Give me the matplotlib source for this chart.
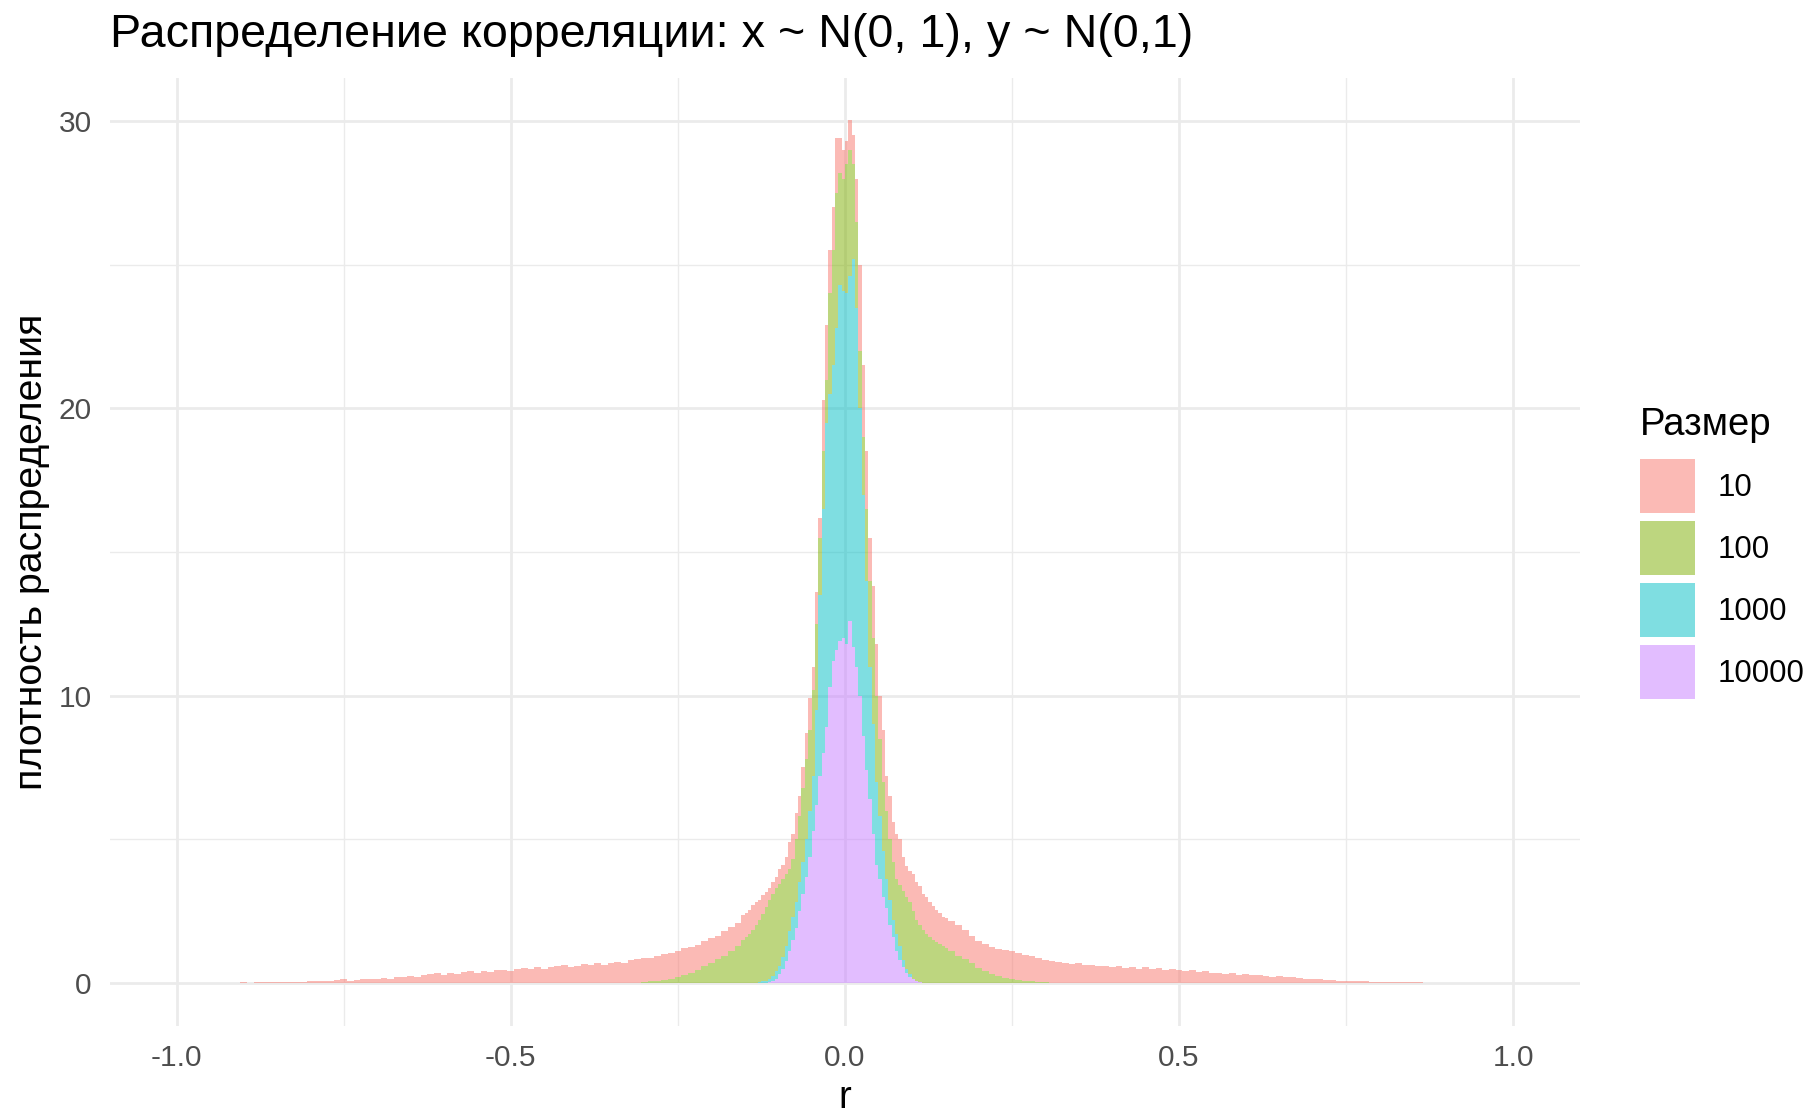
import numpy as np
import matplotlib
matplotlib.use("Agg")
import matplotlib.pyplot as plt

plt.rcParams["font.family"] = ["Liberation Sans", "DejaVu Sans"]

# bin edges: 0.01 wide in the tails, 0.005 wide around zero
edges = np.concatenate([
    np.arange(-955, -155, 10),
    np.arange(-155, 155, 5),
    np.arange(155, 956, 10),
]) / 1000.0
centers = (edges[:-1] + edges[1:]) / 2

sizes = ["10", "100", "1000", "10000"]

# density of each layer per bin (stacked)
dens_10 = [
    # -0.95 ... -0.16
    0.01, 0.00, 0.01, 0.00, 0.01, 0.02, 0.01, 0.02, 0.02, 0.03,
    0.02, 0.03, 0.03, 0.04, 0.03, 0.05, 0.05, 0.06, 0.07, 0.09,
    0.12, 0.08, 0.10, 0.13, 0.12, 0.15, 0.17, 0.14, 0.19, 0.20,
    0.24, 0.21, 0.27, 0.30, 0.35, 0.28, 0.33, 0.30, 0.38, 0.40,
    0.34, 0.42, 0.37, 0.45, 0.44, 0.40, 0.48, 0.52, 0.50, 0.56,
    0.50, 0.55, 0.58, 0.62, 0.56, 0.60, 0.66, 0.62, 0.70, 0.64,
    0.68, 0.74, 0.70, 0.78, 0.82, 0.82, 0.83, 0.85, 0.90, 0.92,
    0.90, 0.92, 0.89, 0.87, 0.87, 0.85, 0.83, 0.85, 0.85, 0.80,
    # -0.1525 ... 0.1525
    0.85, 0.85, 0.85, 0.85, 0.80, 0.70, 0.65, 0.50, 0.40, 0.40,
    0.40, 0.50, 0.50, 0.60, 0.95, 0.90, 0.90, 0.70, 0.70, 0.90,
    1.10, 0.80, 1.10, 0.70, 1.80, 1.90, 1.50, 1.50, 1.90, 1.20,
    1.00, 0.80, 1.05, 1.00, 1.50, 3.00, 2.50, 2.00, 1.50, 1.80,
    1.80, 1.50, 1.80, 1.20, 1.50, 1.40, 1.60, 1.60, 1.20, 1.06,
    1.10, 1.30, 1.30, 1.36, 1.25, 1.30, 1.20, 1.17, 1.13, 1.10,
    1.02, 1.05,
    # 0.16 ... 0.95
    1.05, 1.05, 1.03, 0.97, 0.92, 0.93, 0.93, 0.93, 0.97,
    0.99, 0.95, 0.90, 0.87, 0.82, 0.78, 0.76, 0.72, 0.70, 0.66,
    0.68, 0.62, 0.64, 0.58, 0.60, 0.56, 0.58, 0.52, 0.55, 0.50,
    0.54, 0.48, 0.52, 0.46, 0.50, 0.45, 0.42, 0.44, 0.38, 0.40,
    0.35, 0.36, 0.31, 0.33, 0.28, 0.30, 0.26, 0.27, 0.24, 0.22,
    0.23, 0.19, 0.20, 0.16, 0.15, 0.14, 0.13, 0.10, 0.09, 0.08,
    0.07, 0.06, 0.06, 0.05, 0.04, 0.03, 0.03, 0.03, 0.02, 0.02,
    0.02, 0.02, 0.01, 0.01, 0.01, 0.01, 0.00, 0.01, 0.00, 0.00, 0.00,
]
start_10 = -0.95

dens_100 = [
    0.03, 0.05, 0.07, 0.10, 0.13, 0.20, 0.28, 0.36, 0.45, 0.58,
    0.70, 0.82, 0.95, 1.10, 1.30,
    1.50, 1.60, 1.70, 1.85, 2.00, 2.18, 2.35, 2.57, 2.75, 2.85,
    2.90, 2.85, 2.70, 2.50, 2.15, 2.00, 2.20, 2.30, 2.60, 2.80,
    2.80, 3.00, 3.00, 2.00, 2.00, 1.50, 3.50, 4.00, 4.70, 3.90,
    3.90, 4.50, 4.40, 3.30, 3.00, 2.00, 2.00, 2.50, 3.00, 3.00,
    3.00, 2.70, 2.40, 2.40, 2.10, 2.00, 1.90, 2.10, 2.40, 2.50,
    2.50, 2.35, 2.13, 1.97, 1.85, 1.70, 1.60, 1.50, 1.42, 1.35,
    1.28, 1.20,
    1.10, 0.95, 0.82, 0.68, 0.53, 0.42, 0.32, 0.24, 0.18, 0.13,
    0.10, 0.07, 0.05, 0.03, 0.02,
]
start_100 = -0.30

dens_1000 = [
    0.02, 0.05, 0.08, 0.13, 0.19, 0.25, 0.30, 0.40, 0.55, 0.70,
    0.80, 0.90, 1.00, 1.10, 1.30, 1.60, 1.90, 3.30, 6.30, 8.50,
    10.6, 10.2, 10.3, 11.2, 12.4, 12.1, 12.2, 12.0, 13.5, 12.5,
    10.0, 8.40, 6.60, 4.60, 3.80, 2.90, 2.20, 1.60, 1.00, 0.90,
    0.60, 0.60, 0.50, 0.25, 0.15, 0.08, 0.03, 0.02, 0.01,
]
start_1000 = -0.1275

dens_10000 = [
    0.02, 0.06, 0.15, 0.30, 0.50, 0.75, 1.10, 1.50, 1.90, 2.50,
    3.10, 3.70, 4.40, 5.30, 6.20, 7.20, 8.00, 8.90, 10.3, 11.2,
    11.6, 11.9, 12.0, 11.8, 12.6, 11.7, 11.0, 10.0, 8.60, 7.40,
    6.40, 5.20, 4.10, 3.60, 3.00, 2.60, 2.00, 1.60, 1.10, 0.80,
    0.55, 0.35, 0.22, 0.12, 0.05, 0.02,
]
start_10000 = -0.1125

colors = ["#F8766D", "#7CAE00", "#00BFC4", "#C77CFF"]


def full_row(values, start):
    row = np.zeros(len(centers))
    i0 = int(np.argmin(np.abs(centers - start)))
    row[i0:i0 + len(values)] = values
    return row


layers = [full_row(dens_10, start_10), full_row(dens_100, start_100),
          full_row(dens_1000, start_1000), full_row(dens_10000, start_10000)]

fig = plt.figure(figsize=(18.11, 11.14), dpi=100)
ax = fig.add_axes([0.0607, 0.079, 0.8117, 0.851])

# stack like ggplot: last level at the bottom
handles = [None] * 4
bottom = np.zeros(len(centers))
for k in [3, 2, 1, 0]:
    top = bottom + layers[k]
    handles[k] = ax.stairs(top, edges, baseline=bottom, fill=True,
                           color=colors[k], alpha=0.5, linewidth=0)
    bottom = top

ax.set_xlim(-1.1, 1.1)
ax.set_ylim(-1.5, 31.5)
ax.set_xticks([-1.0, -0.5, 0.0, 0.5, 1.0])
ax.set_xticklabels(["-1.0", "-0.5", "0.0", "0.5", "1.0"])
ax.set_yticks([0, 10, 20, 30])
ax.set_xticks([-0.75, -0.25, 0.25, 0.75], minor=True)
ax.set_yticks([5, 15, 25], minor=True)
ax.set_axisbelow(True)
ax.grid(True, which="major", color="#EBEBEB", linewidth=2.0)
ax.grid(True, which="minor", color="#EBEBEB", linewidth=1.0)
ax.tick_params(which="both", length=0, labelsize=21.5, labelcolor="#4D4D4D", pad=13)
for s in ax.spines.values():
    s.set_visible(False)

ax.set_xlabel("r", fontsize=27.5, labelpad=6)
ax.set_ylabel("плотность распределения", fontsize=28.3, labelpad=6)

fig.text(110 / 1811, 1 - 47 / 1114, "Распределение корреляции: x ~ N(0, 1), y ~ N(0,1)",
         fontsize=33.6, ha="left", va="baseline")

# legend: title as its own text so the gap above the keys matches
fig.text(1640 / 1811, 1 - 435 / 1114, "Размер", fontsize=27.5, ha="left", va="baseline")
leg = ax.legend(handles, sizes, loc="upper left",
                bbox_to_anchor=(1640 / 1811, 1 - 459 / 1114), bbox_transform=fig.transFigure,
                frameon=False, fontsize=22.5,
                handlelength=1.75, handleheight=2.3, labelspacing=0.24,
                handletextpad=0.72, borderpad=0, borderaxespad=0)

fig.savefig("out.png", dpi=100)
